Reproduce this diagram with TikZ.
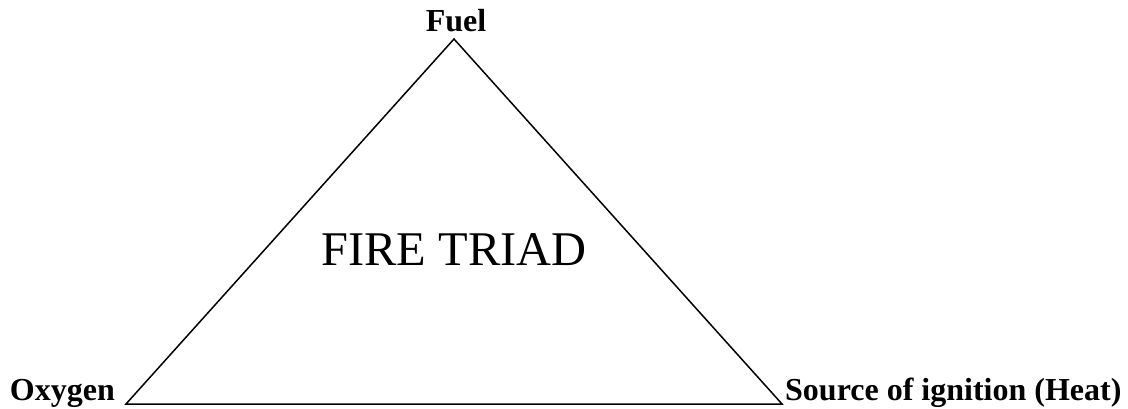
\documentclass[tikz,border=0pt]{standalone}
\usepackage{fontspec}
\setmainfont{Liberation Serif}
\begin{document}
\begin{tikzpicture}[x=1pt,y=1pt,
  lbl/.style={font=\fontsize{32}{32}\selectfont\bfseries, inner sep=0pt, anchor=base},
  big/.style={font=\fontsize{48.4}{48}\selectfont, inner sep=0pt, anchor=base},
  edge/.style={draw=black, line width=1.5pt, line join=miter}]
\useasboundingbox (0,0) rectangle (1128,408);
\coordinate (top) at (454,369);
\coordinate (bl) at (126,4);
\coordinate (br) at (782,4);
\draw[edge] (top) -- (bl) -- (br) -- cycle;
\node[lbl] (fuel) at (456,376) {Fuel};
\node[lbl, anchor=base east] (oxy) at (115,8) {Oxygen};
\node[lbl, anchor=base west] (src) at (785,8) {Source of ignition (Heat)};
\node[big] (title) at (454,143) {FIRE TRIAD};
\end{tikzpicture}
\end{document}
